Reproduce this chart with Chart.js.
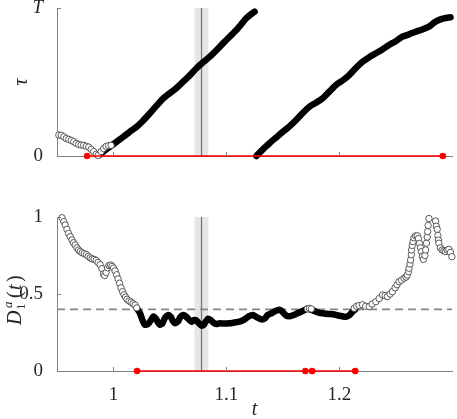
<!DOCTYPE html>
<html>
<head>
<meta charset="utf-8">
<script src="https://cdn.jsdelivr.net/npm/chart.js@4"></script>
<style>
  html, body { margin: 0; padding: 0; background: #fff; }
  #wrap { position: relative; width: 457px; height: 419px; }
  canvas { position: absolute; left: 0; }
  #topChart { top: 0; }
  #bottomChart { top: 190px; }
</style>
</head>
<body>
<div id="wrap">
  <canvas id="topChart" width="457" height="190"></canvas>
  <canvas id="bottomChart" width="457" height="229"></canvas>
</div>
<script>
// --- axes ---
const tRange = [0.95, 1.3];
const tTicks = [1, 1.1, 1.2];
const tauTicks = [0, 1];
const tauTickLabels = ['0', 'T'];
const dTicks = [0, 0.5, 1];
const dTickLabels = ['0', '0.5', '1'];
const bandT = [1.0718, 1.0841];
const markT = 1.078;
const dThreshold = 0.4;

// --- top panel: tau (in units of T) ---
const tauOpenT = [0.9516, 0.9538, 0.9560, 0.9582, 0.9604, 0.9626, 0.9648, 0.9670, 0.9692, 0.9714,
  0.9736, 0.9759, 0.9781, 0.9803, 0.9825, 0.9847, 0.9864, 0.9891, 0.9913, 0.9935, 0.9957, 0.9979];
const tauOpenV = [0.142, 0.140, 0.130, 0.118, 0.112, 0.105, 0.097, 0.085, 0.078, 0.074,
  0.072, 0.066, 0.060, 0.045, 0.030, 0.012, 0.004, 0.030, 0.050, 0.065, 0.070, 0.072];

const tauRise1T = [0.9882, 0.9926, 0.9970, 1.0029, 1.0088, 1.0147, 1.0206, 1.0264, 1.0323, 1.0382,
  1.0441, 1.0500, 1.0559, 1.0617, 1.0676, 1.0735, 1.0794, 1.0853, 1.0912, 1.0970,
  1.1029, 1.1088, 1.1132, 1.1176, 1.1214, 1.1250];
const tauRise1V = [0.010, 0.040, 0.063, 0.097, 0.130, 0.165, 0.198, 0.240, 0.289, 0.340,
  0.390, 0.425, 0.460, 0.502, 0.545, 0.593, 0.633, 0.671, 0.715, 0.761,
  0.806, 0.851, 0.890, 0.930, 0.955, 0.975];

const tauRise2T = [1.1265, 1.1323, 1.1382, 1.1441, 1.1500, 1.1559, 1.1618, 1.1676, 1.1735, 1.1794,
  1.1853, 1.1912, 1.1971, 1.2029, 1.2088, 1.2147, 1.2206, 1.2265, 1.2324, 1.2382,
  1.2441, 1.2500, 1.2559, 1.2618, 1.2677, 1.2735, 1.2794, 1.2838, 1.2882, 1.2926, 1.2985];
const tauRise2V = [0.000, 0.045, 0.086, 0.125, 0.164, 0.200, 0.243, 0.290, 0.333, 0.360,
  0.390, 0.435, 0.480, 0.510, 0.547, 0.595, 0.637, 0.668, 0.694, 0.720,
  0.750, 0.775, 0.806, 0.822, 0.840, 0.855, 0.874, 0.900, 0.919, 0.930, 0.937];

const tauRedT = [0.9767, 1.2917];

// --- bottom panel: D_1^a(t) ---
const dOpenT = [0.9544, 0.9560, 0.9573, 0.9588, 0.9602, 0.9617, 0.9632, 0.9646, 0.9661, 0.9676,
  0.9691, 0.9706, 0.9723, 0.9741, 0.9759, 0.9776, 0.9794, 0.9811, 0.9829, 0.9847,
  0.9864, 0.9882, 0.9897, 0.9911, 0.9922, 0.9935, 0.9948, 0.9961, 0.9975, 0.9988,
  1.0001, 1.0014, 1.0028, 1.0041, 1.0054, 1.0067, 1.0081, 1.0094, 1.0107, 1.0120,
  1.0138, 1.0156, 1.0173, 1.0191, 1.0206,
  1.1717, 1.1735, 1.1752,
  1.2132, 1.2154, 1.2176, 1.2206, 1.2234, 1.2265, 1.2291, 1.2324, 1.2353, 1.2382,
  1.2406, 1.2426, 1.2450, 1.2470, 1.2494, 1.2511, 1.2529, 1.2551, 1.2573, 1.2591,
  1.2602, 1.2613, 1.2617, 1.2626, 1.2632, 1.2638, 1.2639, 1.2646, 1.2653, 1.2661,
  1.2676, 1.2691, 1.2701, 1.2710, 1.2719, 1.2728, 1.2736, 1.2745, 1.2758, 1.2765,
  1.2772, 1.2779, 1.2782, 1.2787, 1.2794, 1.2853, 1.2860, 1.2867, 1.2873, 1.2878,
  1.2882, 1.2895, 1.2911, 1.2926, 1.2941, 1.2955, 1.2970, 1.2985, 1.2997];
const dOpenV = [0.995, 0.970, 0.948, 0.920, 0.894, 0.872, 0.851, 0.833, 0.818, 0.800,
  0.786, 0.776, 0.768, 0.762, 0.756, 0.745, 0.735, 0.728, 0.725, 0.718,
  0.705, 0.690, 0.665, 0.630, 0.620, 0.640, 0.670, 0.685, 0.688, 0.680,
  0.668, 0.650, 0.625, 0.598, 0.570, 0.540, 0.515, 0.495, 0.480, 0.466,
  0.455, 0.447, 0.437, 0.428, 0.410,
  0.404, 0.407, 0.403,
  0.407, 0.420, 0.425, 0.430, 0.420, 0.418, 0.435, 0.450, 0.470, 0.494,
  0.490, 0.483, 0.500, 0.515, 0.540, 0.560, 0.580, 0.590, 0.602, 0.610,
  0.623, 0.645, 0.667, 0.695, 0.721, 0.755, 0.786, 0.815, 0.840, 0.865,
  0.877, 0.878, 0.860, 0.829, 0.800, 0.775, 0.745, 0.725, 0.750, 0.786,
  0.830, 0.870, 0.905, 0.945, 0.990, 0.974, 0.940, 0.920, 0.880, 0.850,
  0.830, 0.800, 0.786, 0.780, 0.775, 0.785, 0.790, 0.770, 0.742];

const dFillT = [1.0209, 1.0235, 1.0257, 1.0279, 1.0306, 1.0332, 1.0352, 1.0376, 1.0394, 1.0411,
  1.0434, 1.0456, 1.0485, 1.0509, 1.0526, 1.0544, 1.0570, 1.0592, 1.0617, 1.0641,
  1.0667, 1.0691, 1.0711, 1.0733, 1.0756, 1.0779, 1.0800, 1.0817, 1.0838, 1.0862,
  1.0884, 1.0912, 1.0941, 1.0985, 1.1029, 1.1073, 1.1117, 1.1161, 1.1197, 1.1235,
  1.1267, 1.1309, 1.1338, 1.1367, 1.1400, 1.1435, 1.1470, 1.1497, 1.1529, 1.1559,
  1.1603, 1.1629, 1.1662, 1.1691, 1.1717, 1.1761, 1.1794, 1.1823, 1.1849, 1.1882,
  1.1912, 1.1947, 1.1982, 1.2017, 1.2059, 1.2088, 1.2117, 1.2141];
const dFillV = [0.405, 0.375, 0.330, 0.300, 0.305, 0.330, 0.353, 0.340, 0.315, 0.300,
  0.310, 0.345, 0.364, 0.350, 0.325, 0.310, 0.320, 0.350, 0.364, 0.355,
  0.335, 0.320, 0.330, 0.330, 0.310, 0.295, 0.300, 0.320, 0.340, 0.330,
  0.315, 0.305, 0.310, 0.308, 0.310, 0.315, 0.320, 0.335, 0.355, 0.364,
  0.350, 0.335, 0.340, 0.364, 0.375, 0.390, 0.398, 0.385, 0.360, 0.355,
  0.365, 0.375, 0.385, 0.395, 0.404, 0.395, 0.385, 0.378, 0.375, 0.372,
  0.370, 0.368, 0.362, 0.357, 0.352, 0.362, 0.385, 0.400];

const dRedT = [1.0209, 1.1700, 1.1759, 1.2141];

// --- helpers ---
const SERIF = '"Liberation Serif", "DejaVu Serif", serif';
const TEXT = '#262626';
const AXIS = '#808080';

const pts = (ts, vs) => ts.map((t, i) => ({ x: t, y: vs[i] }));
const onZero = (ts) => ts.map(t => ({ x: t, y: 0 }));

const openStyle = {
  showLine: false, pointRadius: 3.2, pointBackgroundColor: '#fff',
  pointBorderColor: '#333', pointBorderWidth: 0.8, clip: false
};
const fillStyle = {
  showLine: true, borderColor: '#000', borderWidth: 6.5, pointRadius: 0,
  borderCapStyle: 'round', borderJoinStyle: 'round', tension: 0.2, clip: false
};
const redStyle = {
  showLine: true, borderColor: '#ff0000', borderWidth: 1.6, pointRadius: 3.3,
  pointBackgroundColor: '#ff0000', pointBorderWidth: 0, clip: false
};

const decor = {
  id: 'decor',
  beforeDatasetsDraw(chart) {
    const { ctx, chartArea: a, scales: { x } } = chart;
    const x0 = x.getPixelForValue(bandT[0]);
    const x1 = x.getPixelForValue(bandT[1]);
    const xm = x.getPixelForValue(markT);
    ctx.save();
    ctx.fillStyle = '#e6e6e6';
    ctx.fillRect(x0, a.top, x1 - x0, a.bottom - a.top);
    ctx.strokeStyle = '#777';
    ctx.lineWidth = 1.3;
    ctx.beginPath();
    ctx.moveTo(xm, a.top);
    ctx.lineTo(xm, a.bottom);
    ctx.stroke();
    ctx.restore();
  },
  afterDraw(chart, args, opts) {
    const { ctx, chartArea: a, scales: { x, y } } = chart;
    ctx.save();
    // inward tick marks
    ctx.strokeStyle = AXIS;
    ctx.lineWidth = 1;
    ctx.beginPath();
    x.ticks.forEach(tk => {
      const px = Math.round(x.getPixelForValue(tk.value)) + 0.5;
      ctx.moveTo(px, a.bottom);
      ctx.lineTo(px, a.bottom - 4);
    });
    y.ticks.forEach(tk => {
      const py = Math.round(y.getPixelForValue(tk.value)) + 0.5;
      ctx.moveTo(a.left, py);
      ctx.lineTo(a.left + 4, py);
    });
    ctx.stroke();

    // axis labels
    ctx.fillStyle = TEXT;
    if (opts.label === 'tau') {
      ctx.translate(22, (a.top + a.bottom) / 2);
      ctx.rotate(-Math.PI / 2);
      ctx.font = 'italic 20px ' + SERIF;
      ctx.textAlign = 'center';
      ctx.textBaseline = 'middle';
      ctx.fillText('τ', 0, 0);
    } else {
      ctx.save();
      ctx.font = 'italic 20px ' + SERIF;
      ctx.textAlign = 'center';
      ctx.textBaseline = 'middle';
      ctx.fillText('t', (a.left + a.right) / 2, 220);
      ctx.restore();

      // D_1^a(t), rotated, starting from its bottom end
      ctx.translate(21, 135);
      ctx.rotate(-Math.PI / 2);
      ctx.textBaseline = 'alphabetic';
      ctx.textAlign = 'left';
      ctx.font = 'italic 20px ' + SERIF;
      ctx.fillText('D', 0, 0);
      ctx.font = 'italic 13px ' + SERIF;
      ctx.fillText('a', 17, -9);
      ctx.font = '13px ' + SERIF;
      ctx.fillText('1', 15, 4);
      ctx.font = '20px ' + SERIF;
      ctx.fillText('(', 27, 0);
      ctx.font = 'italic 20px ' + SERIF;
      ctx.fillText('t', 35, 0);
      ctx.font = '20px ' + SERIF;
      ctx.fillText(')', 43, 0);
    }
    ctx.restore();
  }
};

function xScale(showLabels, height) {
  return {
    type: 'linear', min: tRange[0], max: tRange[1],
    afterBuildTicks: s => { s.ticks = tTicks.map(v => ({ value: v })); },
    afterFit: s => { s.height = height; s.paddingLeft = 0; s.paddingRight = 0; },
    grid: { display: false },
    border: { display: true, color: AXIS, width: 1 },
    ticks: {
      display: showLabels, maxRotation: 0, padding: 5, color: TEXT,
      font: { family: SERIF, size: 19 },
      callback: v => String(v)
    }
  };
}

function yScale(ticks, labels) {
  return {
    type: 'linear', min: 0, max: 1,
    afterBuildTicks: s => { s.ticks = ticks.map(v => ({ value: v })); },
    afterFit: s => { s.width = 57; s.paddingTop = 0; s.paddingBottom = 0; },
    grid: { display: false },
    border: { display: true, color: AXIS, width: 1 },
    ticks: {
      padding: 6, color: TEXT,
      font: c => ({ family: SERIF, size: 19, style: (c.tick && c.tick.label === 'T') ? 'italic' : 'normal' }),
      callback: v => labels[ticks.indexOf(v)]
    }
  };
}

const common = {
  responsive: false, animation: false,
  plugins: { legend: { display: false }, tooltip: { enabled: false } },
  events: []
};

new Chart(document.getElementById('topChart'), {
  type: 'scatter',
  data: {
    datasets: [
      { data: onZero(tauRedT), ...redStyle },
      { data: pts(tauOpenT, tauOpenV), ...openStyle },
      { data: pts(tauRise1T, tauRise1V), ...fillStyle },
      { data: pts(tauRise2T, tauRise2V), ...fillStyle }
    ]
  },
  options: {
    ...common,
    layout: { padding: { left: 0, right: 4, top: 8, bottom: 0 } },
    plugins: { ...common.plugins, decor: { label: 'tau' } },
    scales: { x: xScale(false, 34), y: yScale(tauTicks, tauTickLabels) }
  },
  plugins: [decor]
});

new Chart(document.getElementById('bottomChart'), {
  type: 'scatter',
  data: {
    datasets: [
      { data: onZero(dRedT), ...redStyle },
      { data: pts(dOpenT, dOpenV), ...openStyle },
      { data: pts(dFillT, dFillV), ...fillStyle },
      {
        data: [{ x: tRange[0], y: dThreshold }, { x: tRange[1], y: dThreshold }],
        showLine: true, borderColor: '#878787', borderWidth: 1.6, borderDash: [8, 5],
        pointRadius: 0
      }
    ]
  },
  options: {
    ...common,
    layout: { padding: { left: 0, right: 4, top: 27, bottom: 0 } },
    plugins: { ...common.plugins, decor: { label: 'D' } },
    scales: { x: xScale(true, 48), y: yScale(dTicks, dTickLabels) }
  },
  plugins: [decor]
});
</script>
</body>
</html>
